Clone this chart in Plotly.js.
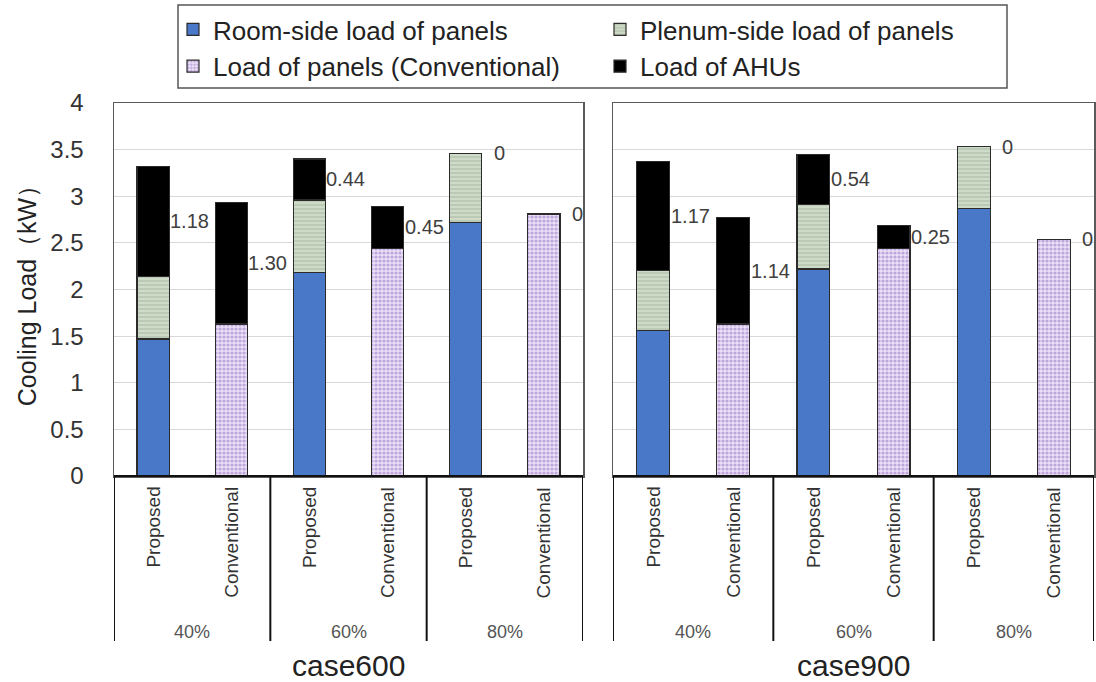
<!DOCTYPE html>
<html>
<head>
<meta charset="utf-8">
<script src="https://cdn.plot.ly/plotly-3.0.1.min.js"></script>
<style>html,body{margin:0;padding:0;background:#fff;}#chart{width:1096px;height:682px;}</style>
</head>
<body>
<div id="chart"></div>
<script>
// ---- data ----
const categories = ['Proposed','Conventional','Proposed','Conventional','Proposed','Conventional'];
const groups = ['40%','60%','80%'];
const cases = ['case600','case900'];
const seriesNames = ['Room-side load of panels','Plenum-side load of panels','Load of panels (Conventional)','Load of AHUs'];

const room600   = [1.47, null, 2.18, null, 2.72, null];
const plenum600 = [0.67, null, 0.78, null, 0.74, null];
const conv600   = [null, 1.63, null, 2.44, null, 2.81];
const ahu600    = [1.18, 1.30, 0.44, 0.45, 0, 0];

const room900   = [1.56, null, 2.22, null, 2.87, null];
const plenum900 = [0.64, null, 0.69, null, 0.66, null];
const conv900   = [null, 1.63, null, 2.44, null, 2.54];
const ahu900    = [1.17, 1.14, 0.54, 0.25, 0, 0];

const yTicks = [0,0.5,1,1.5,2,2.5,3,3.5,4];

// ---- layout constants ----
const W = 1096, H = 682;
const plotTop = 103, plotBottom = 476, dividerBottom = 641;
const py = v => 1 - v / H;
const pos = categories.map((_, i) => i);
const FONT = 'Arial, Liberation Sans, sans-serif';

const styles = [
  {color:'#4a78c8', pattern:null},
  {color:'#cbd8c5', pattern:{shape:'-', fgcolor:'#a9b9a1', bgcolor:'#cfdbc9', size:4, solidity:0.25}},
  {color:'#e6d8f3', pattern:{shape:'.', fgcolor:'#bea6dc', bgcolor:'#ece1f7', size:4, solidity:0.5}},
  {color:'#000000', pattern:null}
];

const panels = [
  {xa:'x', ya:'y', data:[room600, plenum600, conv600, ahu600]},
  {xa:'x2', ya:'y2', data:[room900, plenum900, conv900, ahu900]}
];

const traces = [];
panels.forEach((p, pi) => {
  p.data.forEach((vals, si) => {
    const m = {color: styles[si].color, line:{color:'#2b2b2b', width:1.2}};
    if (styles[si].pattern) m.pattern = styles[si].pattern;
    traces.push({
      type:'bar', x:pos, y:vals, xaxis:p.xa, yaxis:p.ya,
      name:seriesNames[si], legendgroup:'s'+si, showlegend: pi === 0,
      width:0.41, marker:m, hoverinfo:'skip'
    });
  });
});

const annotations = [];
const shapes = [];
const labFont = {family:FONT, size:20, color:'#404040'};

panels.forEach((p, pi) => {
  const [room, plenum, conv, ahu] = p.data;
  // AHU data labels
  ahu.forEach((v, i) => {
    const base = (conv[i] != null) ? conv[i] : (room[i] + plenum[i]);
    annotations.push({
      x: pos[i] + 0.205, y: base + v / 2, xref: p.xa, yref: p.ya,
      text: v === 0 ? '0' : v.toFixed(2), showarrow:false,
      xanchor:'left', yanchor:'middle', xshift: v === 0 ? 10 : -1,
      font: labFont
    });
  });
  // category labels (rotated)
  categories.forEach((c, i) => {
    annotations.push({
      x: pos[i], y: py(485), xref: p.xa, yref:'paper', text:c, textangle:-90,
      showarrow:false, xanchor:'center', yanchor:'top',
      font:{family:FONT, size:19, color:'#333'}
    });
  });
  // group labels
  groups.forEach((g, gi) => {
    annotations.push({
      x: gi*2 + 0.5, y: py(632), xref: p.xa, yref:'paper', text:g,
      showarrow:false, xanchor:'center', yanchor:'middle',
      font:{family:FONT, size:18, color:'#555'}
    });
  });
  // case label
  annotations.push({
    x: 2.5, y: py(665), xref: p.xa, yref:'paper', text: cases[pi],
    showarrow:false, xanchor:'center', yanchor:'middle',
    font:{family:FONT, size:30, color:'#222'}
  });
  // divider lines
  for (let g = 0; g <= groups.length; g++) {
    const xv = g*2 - 0.5;
    shapes.push({type:'line', xref:p.xa, yref:'paper', x0:xv, x1:xv,
      y0: py(plotBottom), y1: py(dividerBottom), line:{color:'#111', width:2}});
  }
  // bottom axis line
  shapes.push({type:'line', xref:p.xa, yref:'paper', x0:-0.5, x1:5.5,
    y0: py(plotBottom), y1: py(plotBottom), line:{color:'#111', width:2}});
});

// legend frame
shapes.push({type:'rect', xref:'paper', yref:'paper', x0:178/W, x1:1007/W, y0:py(88), y1:py(5),
  line:{color:'#555', width:1.5}, fillcolor:'rgba(0,0,0,0)', layer:'below'});

const yDom = [py(plotBottom), py(plotTop)];
const axY = {
  range:[0,4], tickvals:yTicks, ticktext:yTicks.map(String), showgrid:true, gridcolor:'#d9d9d9', gridwidth:1,
  zeroline:false, showline:true, mirror:true, linecolor:'#5a5a5a', linewidth:1.5, ticks:'',
  tickfont:{family:FONT, size:24, color:'#333'}, domain:yDom, fixedrange:true
};
const axX = {
  range:[-0.5,5.5], showticklabels:false, showgrid:false, zeroline:false,
  showline:true, mirror:true, linecolor:'#5a5a5a', linewidth:1.5, ticks:'', fixedrange:true
};

const layout = {
  width:W, height:H, margin:{l:0,r:0,t:0,b:0},
  paper_bgcolor:'#fff', plot_bgcolor:'#fff',
  barmode:'stack', bargap:0,
  font:{family:FONT, color:'#222'},
  xaxis: Object.assign({}, axX, {domain:[114/W, 583/W], anchor:'y'}),
  xaxis2: Object.assign({}, axX, {domain:[613/W, 1094/W], anchor:'y2'}),
  yaxis: Object.assign({}, axY, {anchor:'x', ticklabelstandoff:24,
    title:{text:'Cooling Load（kW）', standoff:6,
      font:{family:FONT, size:25, color:'#222'}}}),
  yaxis2: Object.assign({}, axY, {anchor:'x2', showticklabels:false}),
  legend:{
    orientation:'h', x:173/W, xanchor:'left', y:py(6), yanchor:'top',
    entrywidth:382, entrywidthmode:'pixels', traceorder:'normal',
    bgcolor:'rgba(0,0,0,0)', borderwidth:0,
    font:{family:FONT, size:26, color:'#222'}
  },
  annotations: annotations,
  shapes: shapes,
  showlegend:true
};

Plotly.newPlot('chart', traces, layout, {displayModeBar:false, staticPlot:true});
</script>
</body>
</html>
